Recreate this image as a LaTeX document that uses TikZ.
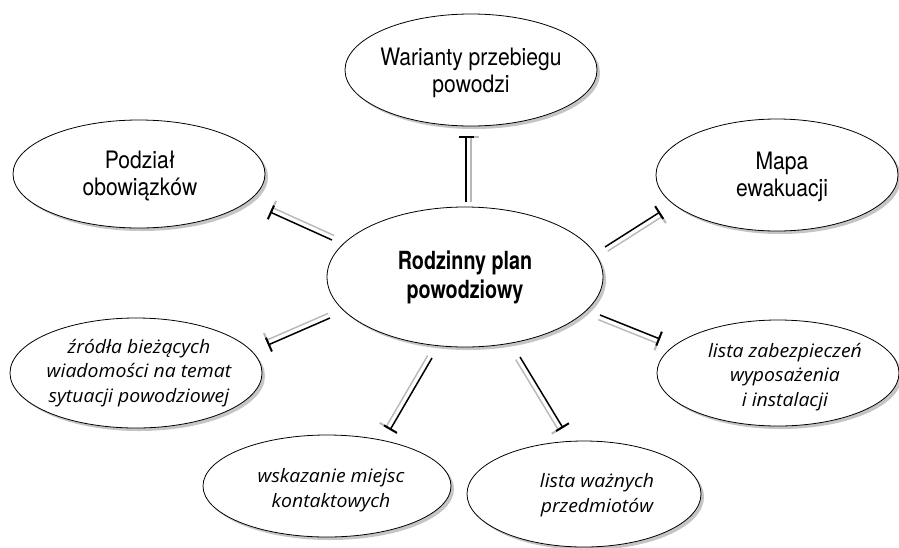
\documentclass[tikz,border=0pt]{standalone}
\usepackage{fontspec}
\usetikzlibrary{shapes.geometric,shadows,calc,arrows.meta}
\newfontfamily\condf{TeX Gyre Heros}[FakeStretch=0.88]
\newfontfamily\condb{TeX Gyre Heros}[FakeStretch=0.79]
\newfontfamily\handf{Open Sans}[FakeStretch=1.05]
\tikzset{
  bubble/.style={ellipse, draw, line width=0.8pt, fill=white, inner sep=0pt,
    drop shadow={shadow xshift=3pt, shadow yshift=-3pt, fill=black!45}},
  plaintxt/.style={font=\condf\fontsize{24}{27}\selectfont, align=center},
  boldtxt/.style={font=\condb\bfseries\fontsize{25}{29}\selectfont, align=center},
  handtxt/.style={font=\handf\itshape\fontsize{18.5}{24.5}\selectfont, align=center},
  connline/.style={line width=1.5pt, -{Bar[width=15pt,line width=2pt]}},
  connshade/.style={line width=1.4pt, black!28, -{Bar[width=15pt,line width=2pt]}},
}
\newcommand\linkit[2]{%
  \draw[connshade] ($(#1)!5pt!-90:(#2)$) -- ($(#2)!5pt!90:(#1)$);
  \draw[connline] (#1) -- (#2);}
\begin{document}
\begin{tikzpicture}[x=1pt,y=-1pt]
\fill[white] (0,0) rectangle (899,547);
\useasboundingbox (0,0) rectangle (899,547);

% ellipses
\node[bubble, minimum width=276pt, minimum height=140pt] (C) at (465,277) {};
\node[bubble, minimum width=252pt, minimum height=112pt] (W) at (471,70) {};
\node[bubble, minimum width=252pt, minimum height=108pt] (P) at (139,174) {};
\node[bubble, minimum width=242pt, minimum height=112pt] (M) at (777,175) {};
\node[bubble, minimum width=252pt, minimum height=110pt] (Z) at (136,373) {};
\node[bubble, minimum width=242pt, minimum height=106pt] (L) at (778,373) {};
\node[bubble, minimum width=248pt, minimum height=102pt] (K) at (327,486) {};
\node[bubble, minimum width=234pt, minimum height=106pt] (V) at (584,494) {};

% texts
\node[boldtxt] (Ct) at (465,277) {Rodzinny plan\\powodziowy};
\node[plaintxt] (Wt) at (471,73) {Warianty przebiegu\\powodzi};
\node[plaintxt] (Pt) at (140,176) {Podział\\obowiązków};
\node[plaintxt] (Mt) at (782,177) {Mapa\\ewakuacji};
\node[handtxt] (Zt) at (139,373) {źródła bieżących\\wiadomości na temat\\sytuacji powodziowej};
\node[handtxt] (Lt) at (785,377) {lista zabezpieczeń\\wyposażenia\\i instalacji};
\node[handtxt] (Kt) at (331,490) {wskazanie miejsc\\kontaktowych};
\node[handtxt] (Vt) at (597,495) {lista ważnych\\przedmiotów};

% connector ends
\coordinate (c1a) at ($(C)+(1,-75)$);   \coordinate (c1b) at ($(W)+(-5,66)$);
\coordinate (c2a) at ($(C)+(-133,-37)$); \coordinate (c2b) at ($(P)+(131,38)$);
\coordinate (c3a) at ($(C)+(140,-30)$);  \coordinate (c3b) at ($(M)+(-117,37)$);
\coordinate (c4a) at ($(C)+(135,38)$);   \coordinate (c4b) at ($(L)+(-118,-34)$);
\coordinate (c5a) at ($(C)+(-135,41)$);  \coordinate (c5b) at ($(Z)+(132,-28)$);
\coordinate (c6a) at ($(C)+(-33,81)$);   \coordinate (c6b) at ($(K)+(63,-56)$);
\coordinate (c7a) at ($(C)+(55,80)$);    \coordinate (c7b) at ($(V)+(-21,-66)$);

\linkit{c1a}{c1b}
\linkit{c2a}{c2b}
\linkit{c3a}{c3b}
\linkit{c4a}{c4b}
\linkit{c5a}{c5b}
\linkit{c6a}{c6b}
\linkit{c7a}{c7b}
\end{tikzpicture}
\end{document}
